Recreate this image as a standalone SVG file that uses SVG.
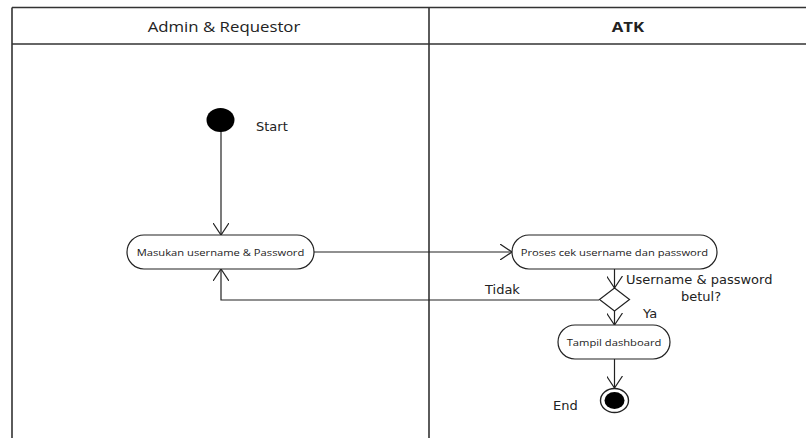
<svg xmlns="http://www.w3.org/2000/svg" width="806" height="438" viewBox="0 0 806 438">
  <defs>
    <style>
      .lane { stroke: #333; stroke-width: 1.6; fill: none; }
      .act { fill: #fff; stroke: #222; stroke-width: 1.2; }
      .atext { font-family: "Open Sans", "DejaVu Sans", sans-serif; font-size: 9.5px; fill: #222; text-anchor: middle; }
      .label { font-family: "DejaVu Sans", "Open Sans", sans-serif; font-size: 13px; fill: #222; }
      .head { font-family: "Open Sans", "DejaVu Sans", sans-serif; font-size: 14px; fill: #222; text-anchor: middle; }
      .flow { stroke: #222; stroke-width: 1.2; fill: none; marker-end: url(#open); }
    </style>
    <marker id="open" viewBox="0 0 12 16" refX="12" refY="8" markerWidth="12" markerHeight="16" markerUnits="userSpaceOnUse" orient="auto">
      <path d="M0,0 L12,8 L0,16" fill="none" stroke="#222" stroke-width="1.2"/>
    </marker>
  </defs>

  <!-- swimlanes -->
  <g id="lanes">
    <rect x="0" y="0" width="806" height="438" fill="#fff"/>
    <line class="lane" x1="12" y1="7.5" x2="806" y2="7.5"/>
    <line class="lane" x1="12" y1="44" x2="806" y2="44"/>
    <line class="lane" x1="12" y1="7.5" x2="12" y2="438"/>
    <line class="lane" x1="429" y1="7.5" x2="429" y2="438"/>
    <text class="head" transform="translate(224,32) scale(1.2,1)">Admin &amp; Requestor</text>
    <text class="head" transform="translate(628,32) scale(1.2,1)" font-weight="bold">ATK</text>
  </g>

  <!-- connectors -->
  <g id="connectors">
    <line class="flow" x1="221" y1="131" x2="221" y2="235"/>
    <line class="flow" x1="314" y1="252" x2="512" y2="252"/>
    <line class="flow" x1="614.5" y1="269" x2="614.5" y2="288"/>
    <polyline class="flow" points="599,300 221,300 221,269"/>
    <line class="flow" x1="614.5" y1="311" x2="614.5" y2="325"/>
    <line class="flow" x1="614.5" y1="359" x2="614.5" y2="388"/>
    <text class="label" x="485" y="294" font-size="14">Tidak</text>
    <text class="label" x="626" y="284">Username &amp; password</text>
    <text class="label" x="681" y="301">betul?</text>
    <text class="label" x="643" y="318">Ya</text>
  </g>

  <g id="start">
    <ellipse cx="220.5" cy="120" rx="14" ry="12" fill="#000"/>
    <text class="label" x="256" y="131" font-size="14">Start</text>
  </g>

  <g id="masukan">
    <rect class="act" x="127" y="235" width="187" height="34" rx="17" ry="17"/>
    <text class="atext" transform="translate(220.5,255.5) scale(1.18,1)">Masukan username &amp; Password</text>
  </g>

  <g id="proses">
    <rect class="act" x="512" y="235" width="205" height="34" rx="17" ry="17"/>
    <text class="atext" transform="translate(614.5,255.5) scale(1.18,1)">Proses cek username dan password</text>
  </g>

  <g id="decision">
    <polygon points="614.5,288 629.5,299.5 614.5,311 599.5,299.5" fill="#fff" stroke="#222" stroke-width="1.2"/>
  </g>

  <g id="tampil">
    <rect class="act" x="558" y="325" width="112" height="34" rx="17" ry="17"/>
    <text class="atext" transform="translate(614,345.5) scale(1.18,1)">Tampil dashboard</text>
  </g>

  <g id="end">
    <ellipse cx="614.5" cy="400.5" rx="14" ry="12" fill="#fff" stroke="#222" stroke-width="1.4"/>
    <ellipse cx="614.5" cy="400.5" rx="10" ry="8.5" fill="#000"/>
    <text class="label" x="553" y="410" font-size="14">End</text>
  </g>
</svg>
